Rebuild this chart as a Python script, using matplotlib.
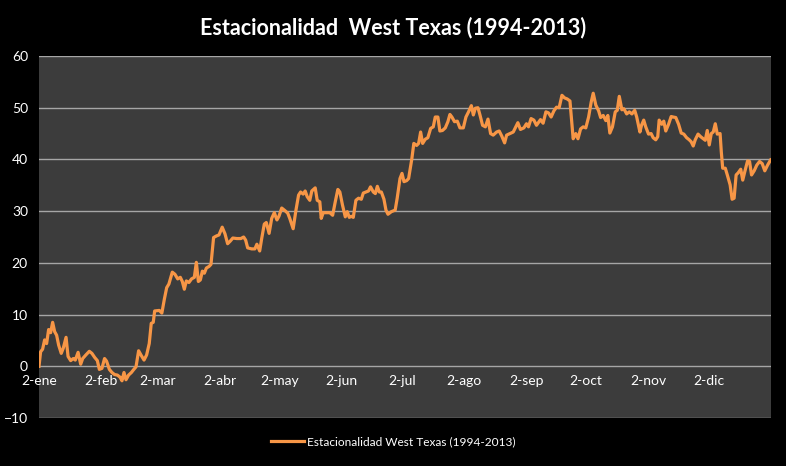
import matplotlib
matplotlib.use("Agg")
import matplotlib.pyplot as plt

# Day offsets from 2-ene and seasonal values
days = [0, 0.8, 1.8, 2.8, 3.8, 4.8, 5.8, 6.8, 7.8, 8.8, 9.8, 11.1, 12.1, 13.5, 14.5, 15.8, 17.1, 18.1, 19.5, 20.8,
        21.8, 23.4, 25.1, 26.4, 27.8, 29.1, 30.1, 31.4, 32.7, 33.7, 35.1, 36.4, 37.7, 39.1, 40.4, 41.4, 42.4, 43.4,
        44.7, 46.1, 47.1, 48.4, 49.7, 51.0, 52.4, 53.7, 55.0, 56.0, 57.0, 57.7, 60.0, 61.3,
        62.5, 63.7, 64.8, 66.5, 67.8, 69.2, 70.5, 71.5, 72.5, 73.5, 74.8, 76.1, 77.5, 78.5, 79.5, 80.5, 81.5, 82.5,
        83.5, 84.8, 85.8, 87.1, 88.5, 89.8, 91.4, 92.8, 94.1, 95.4, 96.7, 98.7, 100.7, 102.1, 103.1, 104.1, 106.1,
        107.7, 108.7, 110.1, 111.1, 112.4, 113.4, 114.8, 116.1, 117.4, 118.7, 119.7, 121.1, 122.7, 124.1, 125.1,
        126.8, 128.2, 129.5, 130.5, 131.8, 132.8, 133.8, 135.1, 136.1, 137.8, 138.8, 140.1, 140.8, 141.8, 143.4,
        145.1, 146.5, 147.8, 149.1, 150.1, 151.4, 152.8, 153.8, 154.8, 155.8, 156.8, 158.1, 159.4, 160.8, 161.8,
        163.1, 164.4, 165.4, 166.8, 167.8, 168.8, 169.8, 170.8, 172.1, 173.1, 174.1, 175.8, 177.7, 178.7, 180.1,
        181.1, 182.1, 183.4, 184.4,
        186.0, 187.0, 188.4, 189.4, 190.4, 191.4, 192.7, 194.0, 195.4, 196.7, 197.7, 199.0, 200.0, 201.3, 202.7,
        204.0, 205.0, 206.0, 207.3, 208.7, 210.0, 211.7, 213.0, 214.3, 215.7, 216.7, 217.7, 219.0, 220.0, 221.3,
        222.7, 224.0, 225.3, 226.6, 228.3, 229.6, 230.9, 232.3, 233.3, 234.9, 236.6, 237.9, 238.9, 240.2, 241.9,
        243.2, 244.2, 245.5, 246.9, 248.2,
        250.2, 251.5, 252.9, 254.2, 255.5, 256.9, 258.2, 259.5, 260.9, 262.2, 263.5, 264.9, 266.5, 267.8, 268.9,
        270.2, 271.5, 272.8, 274.2, 275.5, 276.5, 277.8, 279.2, 280.2, 281.5, 282.8, 283.8, 284.8, 286.1, 287.5,
        288.5, 289.5, 290.8, 291.8, 293.2, 294.5, 295.8, 297.2, 298.2,
        299.8, 300.6, 301.7, 302.7, 304.1, 305.4, 306.4, 307.7, 308.7, 309.4, 310.7, 311.7, 312.7, 314.1, 315.4,
        316.4, 317.7, 319.1, 320.4, 321.7, 323.1, 324.4, 325.4, 326.4, 327.4, 328.8, 330.1, 331.4, 332.4, 333.4,
        334.4, 335.4, 336.4, 337.4, 338.4, 339.8, 340.4, 341.1, 342.4, 343.4, 344.8, 345.8, 346.8, 347.8, 348.8,
        350.1, 351.1, 352.1, 353.5, 354.5, 355.5, 356.8, 358.1, 359.5, 360.8, 362.1, 363.5, 365.0]

values = [0, 2.8, 3.3, 5.1, 4.4, 7.1, 6.5, 8.5, 6.7, 6.0, 4.1, 2.5, 3.5, 5.6, 1.9, 1.1, 1.5, 1.2, 2.7, 0.4,
          1.5, 2.2, 2.9, 2.5, 1.7, 1.1, -0.6, -0.4, 1.5, 1.0, -0.6, -1.2, -1.6, -1.7, -2.1, -2.8, -1.2, -2.6,
          -1.7, -1.2, -0.7, -0.1, 3.0, 2.1, 1.2, 2.2, 4.4, 8.3, 8.5, 10.7, 10.8, 10.3,
          12.9, 15.2, 15.9, 18.2, 17.8, 16.9, 17.2, 16.4, 14.9, 16.5, 16.2, 16.9, 17.2, 20.1, 16.4, 16.7, 18.4, 18.0,
          19.0, 19.3, 19.7, 24.9, 25.2, 25.4, 26.9, 25.6, 23.7, 24.2, 24.8, 24.7, 24.7, 25.0, 24.4, 22.9, 22.7,
          22.7, 23.6, 22.3, 24.7, 27.5, 27.8, 25.7, 28.6, 29.7, 28.3, 29.0, 30.6, 30.1, 29.6, 28.6,
          26.6, 30.2, 33.1, 33.7, 33.3, 33.9, 32.8, 32.1, 33.9, 34.5, 32.1, 31.8, 28.6, 29.7, 29.7,
          29.7, 29.2, 31.8, 34.2, 33.7, 31.2, 28.9, 29.9, 28.8, 29.0, 28.8, 32.1, 32.5, 32.3, 33.5,
          33.7, 33.9, 34.7, 33.7, 33.4, 34.8, 33.7, 33.7, 32.3, 30.2, 29.4, 29.9, 30.2, 32.5, 36.3,
          37.3, 35.7, 35.9, 36.3,
          40.1, 43.1, 42.7, 43.1, 45.3, 43.1, 43.9, 44.2, 46.0, 46.3, 48.2, 48.2, 45.5, 45.6, 46.1,
          47.3, 48.7, 48.2, 47.3, 47.4, 46.1, 46.1, 48.2, 49.2, 50.4, 48.6, 49.9, 50.0, 48.6, 46.6,
          46.3, 47.8, 45.0, 44.7, 45.3, 45.5, 44.5, 43.2, 44.7, 45.0, 45.3, 46.3, 47.1, 45.8, 46.1,
          46.9, 46.3, 47.9, 47.6, 46.6,
          47.7, 47.0, 49.2, 49.0, 48.2, 49.4, 50.1, 50.0, 52.4, 51.9, 51.7, 51.3, 44.0, 45.0, 44.0,
          45.9, 46.3, 46.1, 48.2, 51.1, 52.8, 50.5, 49.4, 48.1, 48.5, 47.5, 48.5, 45.1, 46.3, 49.2,
          49.5, 52.2, 49.6, 49.8, 48.8, 49.2, 48.8, 49.5, 48.2,
          45.3, 46.6, 47.6, 46.3, 44.9, 45.0, 44.2, 43.8, 44.4, 47.6, 46.8, 47.4, 45.5, 46.8, 48.3,
          48.2, 48.1, 46.8, 45.1, 44.9, 44.2, 43.8, 43.4, 42.6, 43.8, 44.9, 44.4, 44.0, 43.7, 45.6,
          42.8, 45.0, 45.3, 46.9, 44.9, 45.0, 41.5, 38.3, 38.3, 37.0, 35.1, 32.3, 32.5, 37.0, 37.4,
          38.1, 36.0, 37.6, 39.7, 39.6, 37.0, 37.8, 38.9, 39.6, 39.2, 37.8, 38.9, 39.9]

tick_days = [0, 31, 59, 90, 120, 151, 181, 212, 243, 273, 304, 334]
tick_labels = ["2-ene", "2-feb", "2-mar", "2-abr", "2-may", "2-jun", "2-jul", "2-ago", "2-sep", "2-oct",
               "2-nov", "2-dic"]
y_ticks = [-10, 0, 10, 20, 30, 40, 50, 60]

title = "Estacionalidad  West Texas (1994-2013)"
series_name = "Estacionalidad West Texas (1994-2013)"

plt.rcParams['font.family'] = ['Lato', 'DejaVu Sans']

fig = plt.figure(figsize=(7.86, 4.66), dpi=100, facecolor='black')
ax = fig.add_axes([39/786, 48/466, (771-39)/786, (418-56)/466])
ax.set_facecolor('#3c3c3c')

ax.plot(days, values, color='#F79646', lw=2.3, label=series_name, solid_joinstyle='round')

ax.set_xlim(0, 365.2)
ax.set_ylim(-10, 60)
ax.set_yticks(y_ticks)
ax.yaxis.grid(True, color='#a6a6a6', lw=1)
ax.set_axisbelow(True)
ax.set_xticks(tick_days)
ax.set_xticklabels(tick_labels)

for s in ['top', 'right', 'left']:
    ax.spines[s].set_visible(False)
ax.spines['bottom'].set_position(('data', 0))
ax.spines['bottom'].set_visible(False)

ax.tick_params(axis='x', length=0, pad=6, colors='white', labelsize=10)
ax.tick_params(axis='y', length=0, pad=8, colors='white', labelsize=10)

fig.text(0.5, 0.942, title, ha='center', va='center', color='white', fontsize=15.5, fontweight='bold')

leg = fig.legend(loc='center', bbox_to_anchor=(0.5, (466-442)/466), frameon=False,
                 fontsize=8.6, handlelength=2.8, handletextpad=0.2)
for t in leg.get_texts():
    t.set_color('white')

fig.savefig('out.png', dpi=100, facecolor='black')
